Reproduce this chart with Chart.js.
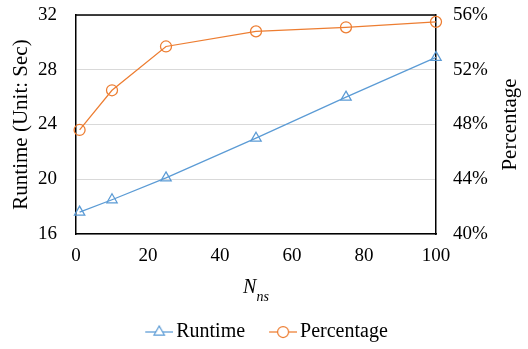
<!DOCTYPE html>
<html>
<head>
<meta charset="utf-8">
<script src="https://cdn.jsdelivr.net/npm/chart.js@4"></script>
<style>
  html, body { margin: 0; padding: 0; background: #fff; overflow: hidden; }
  #wrap { width: 528px; height: 352px; }
</style>
</head>
<body>
<div id="wrap"><canvas id="runtime-chart" width="528" height="352"></canvas></div>
<script>
// values
const nsValues = [1, 10, 25, 50, 75, 100];
const runtimeSec = [17.6, 18.5, 20.1, 23.0, 26.0, 28.9];
const percentage = [47.6, 50.5, 53.7, 54.8, 55.1, 55.5];
const xTicks = [0, 20, 40, 60, 80, 100];
const runtimeTicks = [16, 20, 24, 28, 32];
const percentTicks = [40, 44, 48, 52, 56];

const blue = '#5b9bd5';
const orange = '#ed7d31';
const serif = '"Liberation Serif", "Times New Roman", serif';

// legend icons: short line with the marker on it
function legendIcon(color, shape) {
  const c = document.createElement('canvas');
  c.width = 40;
  c.height = 16;
  const g = c.getContext('2d');
  g.strokeStyle = color;
  g.lineWidth = 1.25;
  g.beginPath();
  g.moveTo(12, 8);
  g.lineTo(40, 8);
  g.stroke();
  g.beginPath();
  if (shape === 'triangle') {
    const r = 6;
    g.moveTo(26, 8 - r);
    g.lineTo(26 + r * Math.sin(2 * Math.PI / 3), 8 + r / 2);
    g.lineTo(26 - r * Math.sin(2 * Math.PI / 3), 8 + r / 2);
    g.closePath();
  } else {
    g.arc(26, 8, 5.5, 0, Math.PI * 2);
  }
  g.fillStyle = '#fff';
  g.fill();
  g.stroke();
  return c;
}
const legendIcons = [legendIcon(blue, 'triangle'), legendIcon(orange, 'circle')];

const frame = {
  id: 'frame',
  beforeDatasetsDraw(chart) {
    const {ctx, chartArea} = chart;
    ctx.save();
    ctx.strokeStyle = '#000';
    ctx.lineWidth = 1.5;
    ctx.beginPath();
    ctx.moveTo(chartArea.left, chartArea.top);
    ctx.lineTo(chartArea.right, chartArea.top);
    ctx.stroke();
    ctx.restore();
  },
  afterDraw(chart) {
    const {ctx, chartArea} = chart;
    ctx.save();
    ctx.fillStyle = '#000';
    // x title N with subscript ns
    ctx.font = 'italic 20px ' + serif;
    const wN = ctx.measureText('N').width;
    ctx.font = 'italic 14px ' + serif;
    const wS = ctx.measureText('ns').width;
    const sx = (chartArea.left + chartArea.right) / 2 - (wN + wS) / 2;
    ctx.textBaseline = 'alphabetic';
    ctx.textAlign = 'left';
    ctx.font = 'italic 20px ' + serif;
    ctx.fillText('N', sx, 293);
    ctx.font = 'italic 14px ' + serif;
    ctx.fillText('ns', sx + wN, 301);
    // right axis title, reading upwards
    ctx.font = '21px ' + serif;
    ctx.translate(516, (chartArea.top + chartArea.bottom) / 2);
    ctx.rotate(-Math.PI / 2);
    ctx.textAlign = 'center';
    ctx.fillText('Percentage', 0, 0);
    ctx.restore();
  }
};

function fixWidth(w) {
  return axis => {
    axis.width = w;
    axis.paddingTop = 0;
    axis.paddingBottom = 0;
  };
}

new Chart(document.getElementById('runtime-chart'), {
  type: 'line',
  data: {
    datasets: [{
      label: 'Runtime',
      data: nsValues.map((x, i) => ({x: x, y: runtimeSec[i]})),
      yAxisID: 'y',
      borderColor: blue,
      borderWidth: 1.25,
      pointStyle: 'triangle',
      pointRadius: 6,
      pointBorderWidth: 1.25,
      pointBorderColor: blue,
      pointBackgroundColor: 'rgba(255,255,255,0)',
      clip: false
    }, {
      label: 'Percentage',
      data: nsValues.map((x, i) => ({x: x, y: percentage[i]})),
      yAxisID: 'y1',
      borderColor: orange,
      borderWidth: 1.25,
      pointStyle: 'circle',
      pointRadius: 5.5,
      pointBorderWidth: 1.25,
      pointBorderColor: orange,
      pointBackgroundColor: 'rgba(255,255,255,0)',
      clip: false
    }]
  },
  options: {
    responsive: false,
    animation: false,
    layout: { padding: { top: 15, left: 0, right: 0, bottom: 0 } },
    plugins: {
      tooltip: { enabled: false },
      legend: {
        position: 'bottom',
        labels: {
          usePointStyle: true,
          pointStyleWidth: 26,
          padding: 19,
          color: '#000',
          font: { family: serif, size: 20 },
          generateLabels(chart) {
            const items = Chart.defaults.plugins.legend.labels.generateLabels(chart);
            items.forEach((it, i) => { it.pointStyle = legendIcons[i]; });
            return items;
          }
        }
      }
    },
    scales: {
      x: {
        type: 'linear',
        min: 0,
        max: 100,
        afterBuildTicks(axis) { axis.ticks = xTicks.map(v => ({value: v})); },
        afterFit(axis) {
          axis.height = 69;
          axis.paddingLeft = 0;
          axis.paddingRight = 0;
        },
        grid: { display: false, drawTicks: false },
        border: { display: true, color: '#000', width: 1.5 },
        ticks: { padding: 11, color: '#000', font: { family: serif, size: 19 }, maxRotation: 0 }
      },
      y: {
        position: 'left',
        min: 16,
        max: 32,
        afterBuildTicks(axis) { axis.ticks = runtimeTicks.map(v => ({value: v})); },
        afterFit: fixWidth(76),
        grid: { color: '#d9d9d9', lineWidth: 1, drawTicks: false },
        border: { display: true, color: '#000', width: 1.5 },
        ticks: { padding: 19, color: '#000', font: { family: serif, size: 19 } },
        title: {
          display: true,
          text: 'Runtime (Unit: Sec)',
          color: '#000',
          font: { family: serif, size: 21 },
          padding: { top: 9, bottom: 0 }
        }
      },
      y1: {
        position: 'right',
        min: 40,
        max: 56,
        afterBuildTicks(axis) { axis.ticks = percentTicks.map(v => ({value: v})); },
        afterFit: fixWidth(92),
        grid: { display: false, drawTicks: false },
        border: { display: true, color: '#000', width: 1.5 },
        ticks: {
          padding: 17,
          color: '#000',
          font: { family: serif, size: 19 },
          callback: v => v + '%'
        }
      }
    }
  },
  plugins: [frame]
});
</script>
</body>
</html>
